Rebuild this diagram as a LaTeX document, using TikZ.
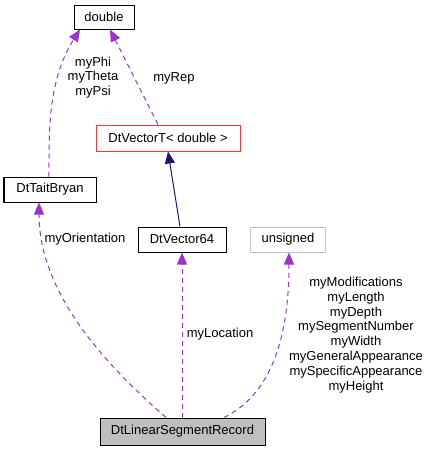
\documentclass[tikz,border=0pt]{standalone}
\usepackage{fontspec}
\setmainfont{Liberation Sans}
\usetikzlibrary{arrows.meta}
\definecolor{edgepurple}{HTML}{9A32CD}
\definecolor{edgenavy}{HTML}{191970}
\definecolor{boxred}{HTML}{FF3030}
\definecolor{boxgray}{HTML}{BFBFBF}
\begin{document}
\begin{tikzpicture}[x=1pt,y=-1pt,
  font=\fontsize{13}{14.77}\selectfont,
  cls/.style={draw=black,line width=1pt,inner sep=0pt,minimum height=25pt,fill=white},
  usage/.style={draw=edgepurple,line width=1pt,dash pattern=on 5pt off 4pt,
    -{Triangle[length=12pt,width=10pt,fill=edgepurple]}},
  inherit/.style={draw=edgenavy,line width=1pt,
    -{Triangle[length=12pt,width=10pt,fill=edgenavy]}},
  lbl/.style={align=center,inner sep=0pt}]
\useasboundingbox (0,0) rectangle (429,451);
\node[cls,minimum width=60pt,minimum height=24pt] (double) at (104,17) {double};
\node[cls,draw=boxred,minimum width=144pt,minimum height=26pt] (vt) at (168,138) {DtVectorT< double >};
\node[cls,minimum width=92pt] (tb) at (50,189.5) {DtTaitBryan};
\node[cls,minimum width=88pt] (v64) at (182,239.5) {DtVector64};
\node[cls,draw=boxgray,minimum width=75pt] (uns) at (288,239.5) {unsigned};
\node[cls,fill=boxgray,minimum width=165pt,minimum height=27pt] (rec) at (182.5,431.5) {DtLinearSegmentRecord};
% edges
\draw[usage] ([xshift=-1pt]tb.north) .. controls (49,130) and (48,80) .. ([xshift=-24pt]double.south);
\draw[usage] ([xshift=-10pt]vt.north) -- ([xshift=6pt]double.south);
\draw[inherit] ([xshift=-2pt]v64.north) -- (vt.south);
\draw[usage] ([xshift=-16.5pt]rec.north) .. controls (100,360) and (39,290) .. ([xshift=-11pt]tb.south);
\draw[usage] (rec.north -| v64.south) -- (v64.south);
\draw[usage] ([xshift=41.5pt]rec.north) .. controls (270,395) and (289,340) .. ([xshift=1pt]uns.south);
% labels
\node[lbl] (l1) at (93,77.5) {myPhi\\myTheta\\myPsi};
\node[lbl] (l2) at (174,78) {myRep};
\node[lbl] (l3) at (85,239) {myOrientation};
\node[lbl] (l4) at (220,334) {myLocation};
\node[lbl] (l5) at (356,335) {myModifications\\myLength\\myDepth\\mySegmentNumber\\myWidth\\myGeneralAppearance\\mySpecificAppearance\\myHeight};
\end{tikzpicture}
\end{document}
